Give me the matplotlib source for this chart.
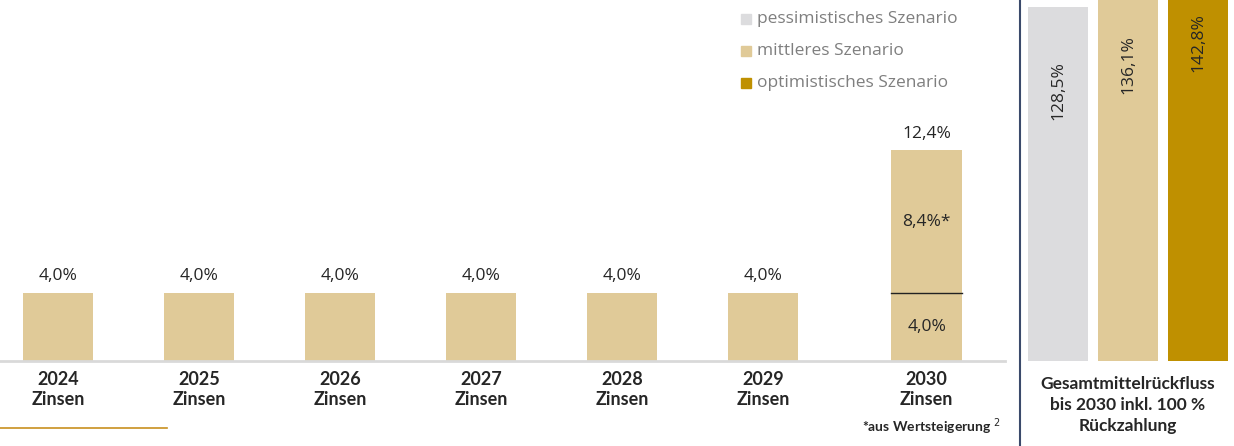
import matplotlib
matplotlib.use("Agg")
import matplotlib.pyplot as plt
from matplotlib.patches import Rectangle
from matplotlib.lines import Line2D

# ---- data ----
years = ["2024", "2025", "2026", "2027", "2028", "2029", "2030"]
interest = [4.0, 4.0, 4.0, 4.0, 4.0, 4.0, 4.0]
appreciation = [0, 0, 0, 0, 0, 0, 8.4]
scenario_names = ["pessimistisches Szenario", "mittleres Szenario", "optimistisches Szenario"]
scenario_values = [128.5, 136.1, 142.8]

TAN = "#E0CA98"
GREY = "#DCDCDE"
GOLD = "#BF9000"
TXT = "#262626"

W, H = 1234, 446
fig = plt.figure(figsize=(W / 100, H / 100), dpi=100)

def fmt(v):
    return f"{v:.1f}%".replace(".", ",")

# ---- left panel ----
base_px = 361
axL = fig.add_axes([0, 1 - base_px / H, 1005 / W, base_px / H])
pos = [0, 1, 2, 3, 4, 5, 6.16]
bw = 0.5
axL.bar(pos, interest, width=bw, color=TAN, zorder=2)
axL.bar(pos, appreciation, width=bw, bottom=interest, color=TAN, zorder=2)
axL.set_xlim(-0.411, 6.716)
axL.set_ylim(0, 361 / 17)
for s in ["top", "right", "left"]:
    axL.spines[s].set_visible(False)
axL.spines["bottom"].set_color("#D9D9D9")
axL.spines["bottom"].set_linewidth(2)
axL.set_yticks([])
axL.set_xticks(pos)
axL.set_xticklabels([f"{y}\nZinsen" for y in years], fontsize=13, fontweight="bold",
                    family="Lato", color=TXT, linespacing=1.25)
axL.tick_params(axis="x", length=0, pad=7)

for p, i, a in zip(pos, interest, appreciation):
    total = i + a
    axL.text(p, total + 0.5, fmt(total), ha="center", va="bottom", fontsize=12.5,
             family="Open Sans", color=TXT)
    if a > 0:
        axL.text(p, i + a / 2, fmt(a) + "*", ha="center", va="center", fontsize=12.5,
                 family="Open Sans", color=TXT)
        axL.text(p, i / 2, fmt(i), ha="center", va="center", fontsize=12.5,
                 family="Open Sans", color=TXT)
        axL.plot([p - bw / 2, p + bw / 2], [i, i], color="#222222", lw=1, zorder=3)

# legend (manual)
leg_colors = [GREY, TAN, GOLD]
for k, (name, c) in enumerate(zip(scenario_names, leg_colors)):
    ypx = 19 + 32 * k
    fig.patches.append(Rectangle((741 / W, 1 - (ypx + 5) / H), 10 / W, 10 / H,
                                 transform=fig.transFigure, color=c, figure=fig))
    fig.text(757 / W, 1 - ypx / H, name, ha="left", va="center", fontsize=12.5,
             family="Open Sans", color="#7F7F7F")

# footnote
fig.text(1000 / W, 1 - 427 / H, "*aus Wertsteigerung $^2$", ha="right", va="center",
         fontsize=10, fontweight="bold", family="Lato", color=TXT)
fig.lines.append(Line2D([0, 167 / W], [1 - 428 / H] * 2, transform=fig.transFigure,
                        color="#C8901F", lw=1.2))

# separator
fig.lines.append(Line2D([1020 / W] * 2, [0, 1], transform=fig.transFigure,
                        color="#3B4A6B", lw=1.5))

# ---- right panel ----
axR = fig.add_axes([1023 / W, 1 - base_px / H, (W - 1023) / W, base_px / H])
rpos = [0, 1, 2]
axR.bar(rpos, scenario_values, width=0.857, color=leg_colors)
axR.set_xlim(-0.5, 2.514)
axR.set_ylim(0, 131)
axR.axis("off")
for p, v in zip(rpos, scenario_values):
    axR.text(p, 98.3 + (v - 128.5) * 1.2, fmt(v), rotation=90, ha="center", va="center",
             fontsize=12.5, family="Open Sans", color=TXT)
fig.text(1128 / W, 1 - 405 / H, "Gesamtmittelrückfluss\nbis 2030 inkl. 100 %\nRückzahlung",
         ha="center", va="center", fontsize=12.5, fontweight="bold", family="Lato",
         color=TXT, linespacing=1.35)

fig.savefig("out.png", dpi=100)
